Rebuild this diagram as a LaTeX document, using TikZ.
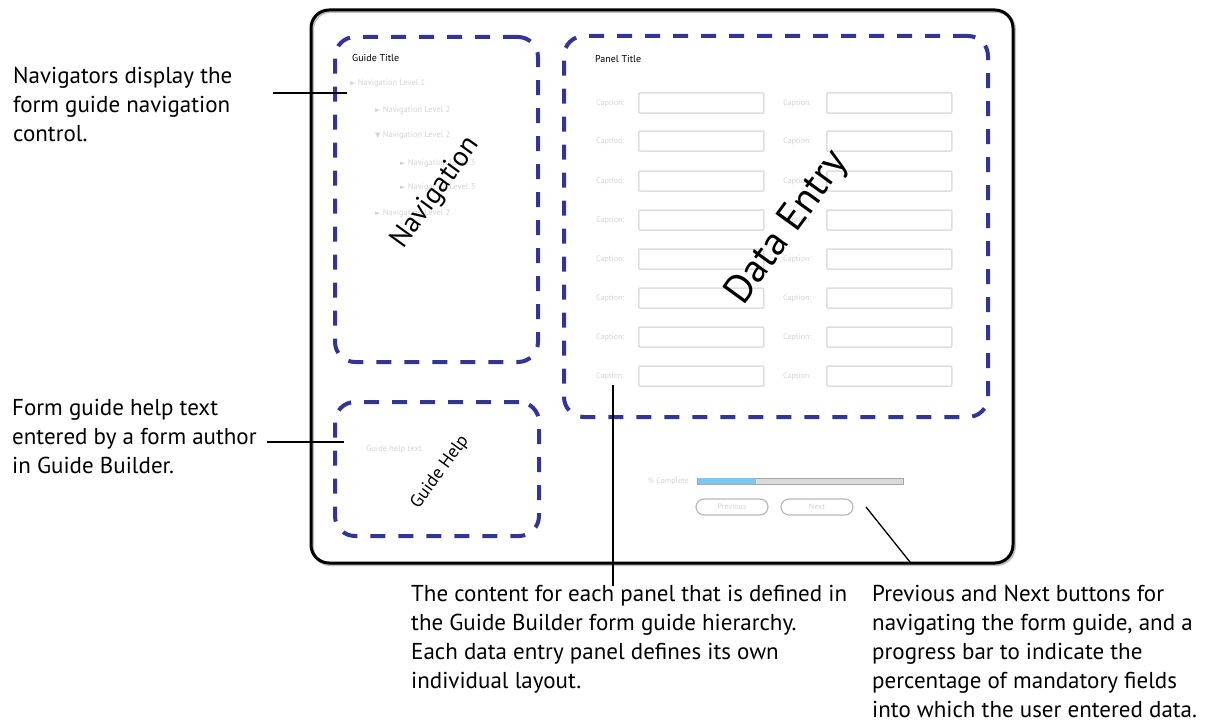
\documentclass[tikz,border=0pt]{standalone}
\usepackage{fontspec}
\setmainfont{PT Sans}
\newfontfamily\symfont{DejaVu Sans}
\definecolor{dashblue}{RGB}{50,52,150}
\definecolor{faint}{RGB}{212,212,212}
\definecolor{boxgray}{RGB}{222,222,222}
\definecolor{bargray}{RGB}{218,218,218}
\definecolor{barblue}{RGB}{125,200,240}
\begin{document}
\begin{tikzpicture}[x=1pt,y=-1pt,
  dashbox/.style={draw=dashblue, line width=4pt, rounded corners=20pt,
    dash pattern=on 15pt off 13pt, inner sep=0pt, outer sep=0pt},
  note/.style={font=\fontsize{23}{29}\selectfont, align=left, anchor=base west, inner sep=0pt},
  conn/.style={draw=black, line width=1.3pt},
  navitem/.style={font=\fontsize{8.5}{10}\selectfont, text=faint, anchor=west, inner sep=0pt},
  caption/.style={font=\fontsize{8}{10}\selectfont, text=faint, anchor=west, inner sep=0pt},
  field/.style={draw=boxgray, line width=1.5pt, rounded corners=1pt, minimum width=125pt,
    minimum height=20pt, inner sep=0pt, anchor=west},
  btn/.style={draw=gray!55, line width=1.2pt, rounded corners=8pt, minimum width=72pt,
    minimum height=16pt, inner sep=0pt, font=\fontsize{8}{10}\selectfont, text=faint},
  biglabel/.style={rotate=54, inner sep=0pt}
]
\useasboundingbox (0,0) rectangle (1216,725);

% outer frame with slight shadow
\draw[gray!50, line width=3pt, rounded corners=18pt] (312.5,11.5) rectangle (1014.5,564.5);
\draw[black, line width=3pt, rounded corners=18pt] (311,10) rectangle (1013,563);

% dashed regions
\node[dashbox, minimum width=203pt, minimum height=325pt] (nav) at (436.5,199.5) {};
\node[dashbox, minimum width=424pt, minimum height=381pt] (data) at (776,226.5) {};
\node[dashbox, minimum width=204pt, minimum height=134pt] (help) at (437,469) {};

% navigation content
\node[anchor=west, inner sep=0pt, font=\fontsize{10}{12}\selectfont] (gtitle) at (352,58) {Guide Title};
\node[navitem] (n1) at (350,83) {{\symfont\fontsize{7}{8}\selectfont ►}\ Navigation Level 1};
\node[navitem] (n2) at (375,110) {{\symfont\fontsize{7}{8}\selectfont ►}\ Navigation Level 2};
\node[navitem] (n3) at (375,135) {{\symfont\fontsize{7}{8}\selectfont ▼}\ Navigation Level 2};
\node[navitem] (n4) at (400,163) {{\symfont\fontsize{7}{8}\selectfont ►}\ Navigation Level 3};
\node[navitem] (n5) at (400,187) {{\symfont\fontsize{7}{8}\selectfont ►}\ Navigation Level 3};
\node[navitem] (n6) at (375,213) {{\symfont\fontsize{7}{8}\selectfont ►}\ Navigation Level 2};
\node[biglabel, font=\fontsize{28}{30}\selectfont] (navlbl) at (436,193) {Navigation};

% data entry content
\node[anchor=west, inner sep=0pt, font=\fontsize{10}{12}\selectfont] (ptitle) at (595,59) {Panel Title};
\foreach \yy [count=\i] in {103,141,181,220,259,298,337,376} {
  \node[caption] (cl\i) at (596,\yy) {Caption:};
  \node[field] (fl\i) at (638,\yy) {};
  \node[caption] (cr\i) at (783,\yy) {Caption:};
  \node[field] (fr\i) at (826,\yy) {};
}
\node[biglabel, font=\fontsize{40}{42}\selectfont] (datalbl) at (788,228) {Data Entry};

% guide help content
\node[caption, font=\fontsize{8.5}{10}\selectfont] (helptext) at (366,449) {Guide help text.};
\node[biglabel, font=\fontsize{18}{20}\selectfont] (helplbl) at (440,472) {Guide Help};

% progress + buttons
\node[anchor=east, inner sep=0pt, font=\fontsize{8}{10}\selectfont, text=faint] (pct) at (689,481) {\% Complete};
\node[draw=gray!70, fill=bargray, line width=1pt, minimum width=206pt, minimum height=6pt,
  inner sep=0pt, anchor=west] (bar) at (697,481) {};
\fill[barblue] (bar.south west) ++(0.6,-0.6) rectangle ([xshift=59pt,yshift=-0.6pt]bar.north west);
\node[btn] (prev) at (732,507) {Previous};
\node[btn] (next) at (817,507) {Next};

% annotations (anchor = baseline of last line)
\node[note] (t1) at (13,141) {Navigators display the\\form guide navigation\\control.};
\node[note] (t2) at (12,473) {Form guide help text\\entered by a form author\\in Guide Builder.};
\node[note] (t3) at (411,688) {The content for each panel that is defined in\\the Guide Builder form guide hierarchy.\\Each data entry panel defines its own\\individual layout.};
\node[note] (t4) at (872,717) {Previous and Next buttons for\\navigating the form guide, and a\\progress bar to indicate the\\percentage of mandatory fields\\into which the user entered data.};

% connectors
\coordinate (a1) at (273,93);  \coordinate (b1) at (347,93);
\coordinate (a2) at (267,442); \coordinate (b2) at (344,442);
\coordinate (a3) at (613,586); \coordinate (b3) at (613,385);
\coordinate (a4) at (910,562); \coordinate (b4) at (866,507);
\draw[conn] (a1) -- (b1);
\draw[conn] (a2) -- (b2);
\draw[conn] (a3) -- (b3);
\draw[conn] (a4) -- (b4);
\end{tikzpicture}
\end{document}
